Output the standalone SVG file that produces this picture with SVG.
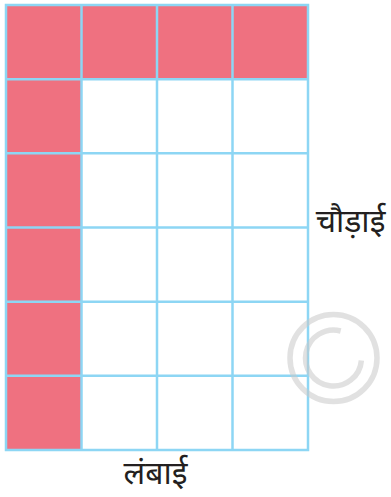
<svg xmlns="http://www.w3.org/2000/svg" width="391" height="497" viewBox="0 0 391 497">
<style>
.cell{fill:#EF7180}
.grid{stroke:#8DD6F4;stroke-width:2.5;fill:none}
.lbl{font-family:"Noto Sans","Noto Sans Devanagari",sans-serif;font-size:32px;fill:#231F20}
.wm{fill:none;stroke:#C8C8C8;stroke-opacity:0.55;stroke-width:5.5}
</style>
<rect width="391" height="497" fill="#FFFFFF"/>
<g id="shaded">
<rect class="cell" x="6" y="5" width="302" height="74.2"/>
<rect class="cell" x="6" y="79.2" width="75.5" height="370.8"/>
</g>
<g id="grid" class="grid">
<rect x="6" y="5" width="302" height="445"/>
<line x1="81.5" y1="5" x2="81.5" y2="450"/>
<line x1="157" y1="5" x2="157" y2="450"/>
<line x1="232.5" y1="5" x2="232.5" y2="450"/>
<line x1="6" y1="79.2" x2="308" y2="79.2"/>
<line x1="6" y1="153.3" x2="308" y2="153.3"/>
<line x1="6" y1="227.5" x2="308" y2="227.5"/>
<line x1="6" y1="301.7" x2="308" y2="301.7"/>
<line x1="6" y1="375.8" x2="308" y2="375.8"/>
</g>
<g id="labels">
<text class="lbl" x="350.5" y="232" text-anchor="middle">चौड़ाई</text>
<text class="lbl" x="155.5" y="484" text-anchor="middle">लंबाई</text>
</g>
<g id="watermark">
<circle class="wm" cx="333.5" cy="358" r="43.5"/>
<path class="wm" d="M340.7 331 A28 28 0 1 0 361.4 360.4"/>
</g>
</svg>
